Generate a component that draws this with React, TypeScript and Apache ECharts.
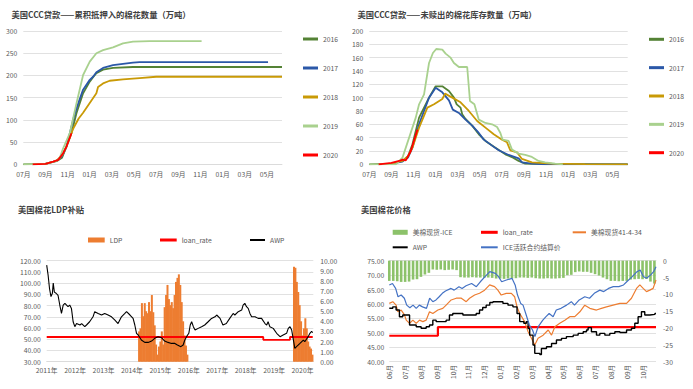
import React, { useEffect, useRef } from "react";
import * as echarts from "echarts";

type P = [number, number][];

// ---------- titles ----------
const T1 = "美国CCC贷款——累积抵押入的棉花数量（万吨）";
const T2 = "美国CCC贷款——未赎出的棉花库存数量（万吨）";
const T3 = "美国棉花LDP补贴";
const T4 = "美国棉花价格";

// ---------- tick labels ----------
const C12_MONTHS = ["07月", "09月", "11月", "01月", "03月", "05月", "07月", "09月", "11月", "01月", "03月", "05月"];
const C3_YEARS = ["2011年", "2012年", "2013年", "2014年", "2015年", "2016年", "2017年", "2018年", "2019年", "2020年"];
const C4_MONTHS = ["06月", "07月", "08月", "09月", "10月", "11月", "12月", "01月", "02月", "03月", "04月", "05月", "06月", "07月", "08月", "09月", "10月"];
const YEARS = ["2016", "2017", "2018", "2019", "2020"];

// ---------- chart 1: cumulative pledged (x = months since Jul) ----------
const C1_2016: P = [[0, 0], [2, 1], [3, 7], [3.5, 15], [3.9, 40], [4.35, 70], [4.8, 115], [5.4, 160], [6, 186], [6.3, 196], [6.6, 205], [7.2, 213], [8.1, 217], [9.9, 219], [23.36, 219]];
const C1_2017: P = [[0.8, 0], [2, 1], [3, 8], [3.5, 18], [3.9, 40], [4.2, 70], [4.6, 110], [5, 140], [5.4, 168], [6, 190], [6.3, 197], [6.6, 207], [7.2, 217], [8.1, 223], [9, 226], [9.9, 229], [10.5, 230], [22.1, 230]];
const C1_2018: P = [[0.8, 0], [2, 1], [3, 8], [3.5, 20], [3.9, 40], [4.5, 80], [5, 103], [5.4, 116], [6, 138], [6.6, 160], [6.75, 174], [7.2, 182], [7.8, 188], [9, 191], [10.5, 194], [12, 197], [23.36, 197]];
const C1_2019: P = [[0, 0], [2, 1], [3, 8], [3.3, 15], [3.6, 36], [4.2, 70], [4.8, 137], [5.4, 201], [6, 231], [6.6, 250], [7.2, 257], [8.1, 263], [9, 272], [9.9, 276], [11.4, 277], [16.1, 277]];
const C1_2020: P = [[0.85, 0], [2, 1], [2.7, 6], [3.15, 10], [3.6, 25], [3.9, 40], [4.35, 70]];

// ---------- chart 2: unredeemed stock ----------
const C2_2016: P = [[0, 0], [2, 1], [3, 5], [3.5, 12], [3.9, 30], [4.5, 70], [5.4, 100], [6, 117], [6.6, 117], [7.2, 110], [7.65, 100], [7.9, 90], [8.25, 85], [8.4, 75], [8.7, 68], [9.3, 58], [9.9, 45], [10.5, 35], [11.4, 25], [12.3, 15], [13, 10], [13.5, 5], [14.1, 1], [15, 0.5], [23.36, 0]];
const C2_2017: P = [[0.8, 0], [2, 1], [3, 4], [3.5, 10], [3.9, 25], [4.5, 60], [5.4, 100], [6, 115], [6.6, 108], [7.2, 96], [7.55, 82], [8.1, 77], [8.7, 67], [9.3, 58], [9.9, 47], [10.35, 37], [11.1, 28], [11.7, 21], [12.6, 14], [13.5, 9], [13.8, 3], [14.7, 1], [16, 0], [23.36, 0]];
const C2_2018: P = [[0.8, 0], [2, 1], [3, 5], [3.5, 12], [3.9, 25], [4.5, 55], [5.25, 85], [5.85, 90], [6.6, 98], [6.85, 106], [7.5, 100], [8.25, 93], [9, 80], [9.75, 65], [10.5, 55], [11.25, 45], [12, 37], [12.45, 33], [12.75, 21], [13.35, 18], [13.8, 8], [14.7, 3], [16.5, 1], [19.5, 0.3], [23.36, 0]];
const C2_2019: P = [[0, 0], [2.4, 0], [3, 10], [3.6, 40], [4.2, 70], [4.5, 90], [4.95, 105], [5.4, 152], [5.75, 167], [6.05, 173], [6.6, 172], [6.9, 166], [7.35, 160], [7.65, 152], [8.1, 146], [8.85, 146], [9.1, 95], [9.5, 90], [9.9, 67], [10.5, 62], [11.1, 60], [11.55, 56], [11.85, 47], [12.05, 37], [12.6, 35], [12.9, 22], [13.5, 16], [14.1, 14], [14.7, 11], [15.3, 5], [15.9, 3], [16.8, 1], [17.5, 0]];
const C2_2020: P = [[0.85, 0], [2, 2], [2.7, 5], [3, 7], [3.3, 6], [3.75, 20], [4.35, 52]];

// ---------- chart 3: LDP (x = year) ----------
const C3_AWP: P = [[2011.0, 116], [2011.05, 107], [2011.1, 95], [2011.15, 88], [2011.2, 91], [2011.23, 100], [2011.27, 92], [2011.33, 91], [2011.4, 89], [2011.46, 80.5], [2011.52, 73], [2011.58, 80.5], [2011.64, 82], [2011.75, 79], [2011.81, 80.5], [2011.87, 77.5], [2011.93, 65.6], [2011.99, 61.2], [2012.05, 64], [2012.17, 62.7], [2012.23, 64], [2012.34, 61.2], [2012.4, 62.7], [2012.51, 65.6], [2012.63, 70], [2012.69, 74.6], [2012.81, 73], [2012.93, 71.6], [2013.04, 73], [2013.16, 71.6], [2013.28, 70], [2013.4, 67], [2013.51, 64], [2013.63, 70], [2013.75, 73], [2013.81, 74.6], [2013.93, 71.6], [2014.04, 68.6], [2014.1, 62.7], [2014.16, 55.3], [2014.22, 53.8], [2014.33, 49.3], [2014.45, 47.2], [2014.57, 47.2], [2014.69, 48.4], [2014.8, 50.8], [2014.92, 52.3], [2015.04, 51.4], [2015.15, 48.4], [2015.27, 47.2], [2015.39, 46.3], [2015.51, 46.3], [2015.6, 44.9], [2015.72, 43.4], [2015.8, 44.9], [2015.86, 49.3], [2015.92, 52.3], [2016.0, 55.3], [2016.05, 62.7], [2016.1, 65.6], [2016.16, 61.2], [2016.22, 58.2], [2016.33, 59.7], [2016.45, 61.2], [2016.56, 62.7], [2016.68, 65.6], [2016.8, 68.6], [2016.92, 70], [2016.98, 71.6], [2017.1, 68.6], [2017.15, 65.6], [2017.2, 62.7], [2017.32, 64], [2017.44, 68.6], [2017.56, 73], [2017.62, 71.6], [2017.74, 74.6], [2017.86, 76], [2017.91, 80.5], [2017.97, 82], [2018.03, 79], [2018.09, 77.5], [2018.15, 73], [2018.21, 70], [2018.33, 70], [2018.44, 68.6], [2018.56, 68.6], [2018.68, 64], [2018.74, 62.7], [2018.79, 65.6], [2018.85, 61.2], [2018.97, 59.7], [2019.09, 55.3], [2019.21, 52.3], [2019.32, 53.8], [2019.44, 55.3], [2019.5, 59.7], [2019.56, 61.2], [2019.62, 58.2], [2019.67, 50.8], [2019.73, 41.9], [2019.79, 43.4], [2019.91, 46.3], [2020.03, 49.3], [2020.08, 47.8], [2020.2, 52.3], [2020.26, 55.3], [2020.32, 57], [2020.36, 56]];
const C3_LOAN: P = [[2011.0, 52], [2018.62, 52], [2018.62, 49.5], [2019.56, 49.5], [2019.56, 52], [2020.36, 52]];
const LDP_A_START = 2014.25;
const LDP_B_START = 2019.7;
const LDP_STEP = 0.05;
const LDP_A = [3.0, 3.3, 5.8, 4.5, 5.8, 5.0, 4.8, 5.9, 5.0, 6.6, 4.9, 3.6, 1.7, 0.7, 1.5, 2.0, 3.0, 1.7, 5.4, 6.6, 7.6, 6.2, 5.6, 5.9, 5.3, 6.6, 7.9, 8.3, 8.65, 7.6, 5.9, 4.0, 2.6, 1.6, 0.7];
const LDP_B = [9.4, 9.3, 7.9, 6.9, 5.6, 4.0, 2.6, 3.3, 4.3, 3.3, 2.0, 1.5, 1.3, 0.7];

// ---------- chart 4: prices (x = months since Jun) ----------
const C4_ICE: P = [[0, 66.6], [0.2, 67.1], [0.4, 65.4], [0.55, 62.5], [0.75, 63.1], [0.95, 62], [1.1, 59.6], [1.3, 58.7], [1.5, 59.6], [1.7, 58.5], [1.9, 59.6], [2.1, 59], [2.35, 58.5], [2.55, 62], [2.75, 60.8], [2.95, 61.4], [3.15, 62.5], [3.35, 63.7], [3.55, 64.5], [3.9, 65.4], [4.1, 64.8], [4.4, 66], [4.6, 65.4], [4.85, 66.3], [5.2, 67.1], [5.5, 66], [5.75, 67.7], [6.05, 69.5], [6.35, 71.2], [6.7, 70.6], [6.9, 69.5], [7.1, 67.7], [7.4, 68.3], [7.75, 68.9], [7.95, 66.6], [8.1, 63.1], [8.3, 60.2], [8.45, 59.6], [8.65, 56.2], [8.85, 52.7], [9.05, 51], [9.2, 48.7], [9.4, 52.1], [9.7, 54.4], [9.9, 55.6], [10.1, 56.7], [10.35, 55.6], [10.55, 57.9], [10.85, 58.5], [11.2, 59.6], [11.5, 60.8], [11.7, 59.6], [12.0, 61.4], [12.35, 62.5], [12.65, 62], [12.95, 63.7], [13.3, 64.8], [13.55, 64.3], [13.85, 65.4], [14.15, 66], [14.5, 66], [14.8, 66.6], [15.0, 67.7], [15.35, 69.5], [15.65, 71.2], [15.85, 71.8], [16.05, 69.5], [16.25, 68.9], [16.5, 70], [16.7, 71.2], [16.85, 72.9]];
const C4_SPOT: P = [[0, 60.2], [0.22, 60.8], [0.43, 59.6], [0.54, 57.3], [0.75, 57.9], [0.96, 56.2], [1.07, 54.4], [1.28, 53.3], [1.49, 54.4], [1.7, 53.3], [1.91, 54.4], [2.12, 53.9], [2.33, 54.4], [2.54, 57.3], [2.75, 56.7], [3.07, 57.9], [3.38, 58.5], [3.59, 59.6], [3.91, 61.4], [4.23, 62], [4.55, 62], [4.86, 60.8], [5.07, 62], [5.39, 63.1], [5.7, 63.7], [6.02, 64.8], [6.34, 66.6], [6.65, 66], [6.86, 64.8], [7.07, 63.1], [7.39, 63.7], [7.71, 63.7], [7.92, 62.5], [8.07, 59], [8.24, 56.7], [8.55, 53.9], [8.77, 50.4], [8.98, 48.1], [9.19, 45.8], [9.4, 48.1], [9.72, 49.2], [10.04, 51], [10.25, 49.2], [10.46, 52.1], [10.77, 53.3], [11.09, 54.4], [11.4, 55.6], [11.72, 55.6], [12.04, 57.3], [12.35, 59.6], [12.67, 58.5], [13.09, 57.9], [13.4, 58.5], [13.72, 59], [14.14, 59.6], [14.57, 60.2], [14.99, 60.2], [15.3, 62], [15.62, 65.4], [15.83, 66.6], [16.04, 65.4], [16.25, 64.3], [16.46, 64.8], [16.67, 65.4], [16.85, 68.3]];
const C4_AWP: P = [[0, 58.5], [0.22, 59], [0.43, 57.9], [0.64, 55.6], [0.85, 56.2], [1.2, 56.2], [1.28, 52.7], [1.49, 52.7], [1.7, 52.1], [2.01, 51.6], [2.33, 52.1], [2.54, 52.7], [2.75, 54.4], [2.96, 53.9], [3.28, 53.9], [3.59, 54.4], [3.8, 56.2], [4.01, 56.7], [4.44, 56.7], [4.65, 56.2], [5.07, 56.2], [5.49, 56.7], [5.7, 57.9], [5.9, 58.8], [6.12, 59.6], [6.35, 60.5], [6.55, 60.8], [6.97, 60.8], [7.18, 60.2], [7.5, 59.6], [7.81, 59], [8.07, 56.7], [8.24, 53.9], [8.5, 53.3], [8.66, 53.9], [8.77, 51.5], [8.87, 49.2], [9.08, 45.8], [9.19, 42.9], [9.51, 42.5], [9.61, 44.6], [9.93, 45.2], [10.25, 46.3], [10.56, 47.5], [10.88, 48.1], [11.19, 48.7], [11.62, 49.2], [11.93, 49.8], [12.25, 50.4], [12.46, 51], [12.56, 51.8], [12.77, 50.4], [13.09, 49.2], [13.3, 49.8], [13.62, 49.2], [13.93, 49.8], [14.25, 50.4], [14.57, 50.1], [14.99, 51], [15.3, 51.6], [15.51, 53.3], [15.72, 55.6], [15.93, 57.3], [16.14, 56.2], [16.46, 56.4], [16.78, 56.7], [16.85, 56.7]];
const C4_LOAN: P = [[0, 49], [3.07, 49], [3.07, 52], [16.85, 52]];
const BASIS_STEP = 0.25;
const C4_BASIS = [-6.0, -6.0, -6.1, -6.3, -6.3, -6.2, -5.6, -5.5, -4.8, -4.1, -3.6, -2.6, -2.7, -2.6, -2.8, -2.7, -2.6, -2.8, -4.9, -5.0, -5.0, -4.9, -5.0, -5.0, -5.1, -5.0, -5.1, -5.3, -5.3, -5.4, -5.3, -5.3, -5.2, -5.0, -5.0, -5.1, -5.0, -5.2, -5.3, -5.3, -5.2, -5.3, -5.3, -5.2, -5.1, -4.3, -4.2, -3.4, -3.2, -3.3, -3.3, -3.6, -4.0, -4.4, -5.0, -5.5, -6.0, -6.0, -6.1, -6.0, -6.0, -5.6, -5.5, -5.4, -5.5, -5.4, -6.2, -6.8];

// ---------- styling ----------
const FONT = '"Noto Sans CJK SC", "Noto Sans", sans-serif';
const LBL = "#595959";
const GRIDC = "#d9d9d9";
const FS = 6.8;
const COLORS: Record<string, string> = { "2016": "#548235", "2017": "#2b58a8", "2018": "#c99a06", "2019": "#a9d18e", "2020": "#ff0000" };

const lbl = (extra: any = {}) => ({ fontSize: FS, color: LBL, fontFamily: FONT, ...extra });
const split = { show: true, lineStyle: { color: GRIDC, width: 0.8 } };

function line(name: string, data: P, color: string, width: number, xi: number, yi: number, extra: any = {}) {
  return {
    name, type: "line", data, xAxisIndex: xi, yAxisIndex: yi, showSymbol: false, symbol: "none",
    lineStyle: { color, width }, itemStyle: { color }, silent: true, ...extra,
  };
}

function legendOne(name: string, left: number, cy: number, w: number, h: number) {
  return {
    left, top: cy - 4.5, padding: 0, selectedMode: false, itemWidth: w, itemHeight: h,
    data: [{ name, icon: "rect" }], textStyle: lbl({ lineHeight: 9 }),
  };
}

export default function App() {
  const ref = useRef<HTMLDivElement>(null);
  useEffect(() => {
    document.body.style.margin = "0";
    const chart = echarts.init(ref.current!, undefined, { renderer: "svg" });
    const titleStyle = { fontSize: 8.3, fontWeight: "bold", color: "#404040", fontFamily: FONT };
    const c1 = [C1_2016, C1_2017, C1_2018, C1_2019, C1_2020];
    const c2 = [C2_2016, C2_2017, C2_2018, C2_2019, C2_2020];
    const series: any[] = [];
    YEARS.forEach((y, i) => series.push(line(y, c1[i], COLORS[y], 1.8, 0, 0)));
    YEARS.forEach((y, i) => series.push(line(y, c2[i], COLORS[y], 1.8, 1, 1)));
    const ldpData = [
      ...LDP_A.map((v, i) => [LDP_A_START + i * LDP_STEP, v]),
      ...LDP_B.map((v, i) => [LDP_B_START + i * LDP_STEP, v]),
    ];
    series.push({ name: "LDP", type: "bar", data: ldpData, xAxisIndex: 2, yAxisIndex: 3, barWidth: 2, itemStyle: { color: "#ed7d31" }, silent: true });
    series.push(line("loan_rate", C3_LOAN, "#ff0000", 1.8, 2, 2));
    series.push(line("AWP", C3_AWP, "#000000", 1.1, 2, 2));
    series.push({ name: "美棉现货-ICE", type: "bar", data: C4_BASIS.map((v, i) => [i * BASIS_STEP, v]), xAxisIndex: 3, yAxisIndex: 5, barWidth: 2.6, itemStyle: { color: "#8cc26a" }, silent: true });
    series.push(line("loan_rate", C4_LOAN, "#ff0000", 2.2, 3, 4));
    series.push(line("美棉现货41-4-34", C4_SPOT, "#ed7d31", 1.2, 3, 4));
    series.push(line("AWP", C4_AWP, "#000000", 1.4, 3, 4, { step: "end" }));
    series.push(line("ICE活跃合约结算价", C4_ICE, "#4472c4", 1.2, 3, 4));

    const xBase = { type: "value", axisTick: { show: false }, splitLine: { show: false }, axisLine: { show: true, lineStyle: { color: GRIDC, width: 0.8 } } };
    const yBase = { type: "value", axisTick: { show: false }, axisLine: { show: false } };

    const option: any = {
      animation: false,
      textStyle: { fontFamily: FONT },
      title: [
        { text: T1, left: 11.5, top: 9.5, padding: 0, textStyle: titleStyle },
        { text: T2, left: 357.5, top: 9.5, padding: 0, textStyle: titleStyle },
        { text: T3, left: 18, top: 205, padding: 0, textStyle: titleStyle },
        { text: T4, left: 361, top: 205, padding: 0, textStyle: titleStyle },
      ],
      legend: [
        { orient: "vertical", left: 303, top: 34.5, padding: 0, itemGap: 20, itemWidth: 15, itemHeight: 3, selectedMode: false, data: YEARS.map((n) => ({ name: n, icon: "rect" })), textStyle: lbl({ lineHeight: 9 }) },
        { orient: "vertical", left: 649, top: 34.8, padding: 0, itemGap: 19.35, itemWidth: 15, itemHeight: 3, selectedMode: false, data: YEARS.map((n) => ({ name: n, icon: "rect" })), textStyle: lbl({ lineHeight: 9 }) },
        legendOne("LDP", 88, 240, 16.7, 5),
        legendOne("loan_rate", 160, 240, 16.7, 3),
        legendOne("AWP", 250, 240, 15, 2),
        legendOne("美棉现货-ICE", 392.7, 232.3, 15, 5),
        legendOne("loan_rate", 481, 232.3, 16.7, 3),
        legendOne("美棉现货41-4-34", 572.7, 232.3, 13.3, 2),
        legendOne("AWP", 392.7, 247.3, 15, 2),
        legendOne("ICE活跃合约结算价", 481, 247.3, 16.7, 2),
      ],
      grid: [
        { left: 23.3, top: 31, width: 258.7, height: 133.3 },
        { left: 369.3, top: 31, width: 258.4, height: 133.3 },
        { left: 46.7, top: 260.7, width: 266.6, height: 101 },
        { left: 389.3, top: 260.7, width: 266.7, height: 101 },
      ],
      xAxis: [
        { ...xBase, gridIndex: 0, min: 0, max: 23.36, interval: 2, axisLabel: lbl({ margin: 6, showMaxLabel: false, formatter: (v: number) => C12_MONTHS[Math.round(v / 2)] ?? "" }) },
        { ...xBase, gridIndex: 1, min: 0, max: 23.36, interval: 2, axisLabel: lbl({ margin: 6, showMaxLabel: false, formatter: (v: number) => C12_MONTHS[Math.round(v / 2)] ?? "" }) },
        { ...xBase, gridIndex: 2, min: 2011, max: 2020.38, interval: 1, axisLabel: lbl({ margin: 5, showMaxLabel: false, formatter: (v: number) => C3_YEARS[Math.round(v - 2011)] ?? "" }) },
        { ...xBase, gridIndex: 3, min: 0, max: 16.85, interval: 1, axisLabel: lbl({ margin: 3, rotate: 90, showMaxLabel: false, formatter: (v: number) => C4_MONTHS[Math.round(v)] ?? "" }) },
      ],
      yAxis: [
        { ...yBase, gridIndex: 0, min: 0, max: 300, interval: 50, splitLine: split, axisLabel: lbl({ margin: 6 }) },
        { ...yBase, gridIndex: 1, min: 0, max: 200, interval: 20, splitLine: split, axisLabel: lbl({ margin: 6 }) },
        { ...yBase, gridIndex: 2, min: 30, max: 120, interval: 10, splitLine: split, axisLabel: lbl({ margin: 6, formatter: (v: number) => v.toFixed(2) }) },
        { ...yBase, gridIndex: 2, position: "right", min: 0, max: 10, interval: 1, splitLine: { show: false }, axisLabel: lbl({ margin: 7, formatter: (v: number) => v.toFixed(2) }) },
        { ...yBase, gridIndex: 3, min: 40, max: 75, interval: 5, splitLine: split, axisLabel: lbl({ margin: 5, formatter: (v: number) => v.toFixed(2) }) },
        { ...yBase, gridIndex: 3, position: "right", min: -30, max: 0, interval: 5, splitLine: { show: false }, axisLabel: lbl({ margin: 7 }) },
      ],
      series,
    };
    chart.setOption(option);
    return () => chart.dispose();
  }, []);
  return <div ref={ref} style={{ width: 693, height: 389 }} />;
}
